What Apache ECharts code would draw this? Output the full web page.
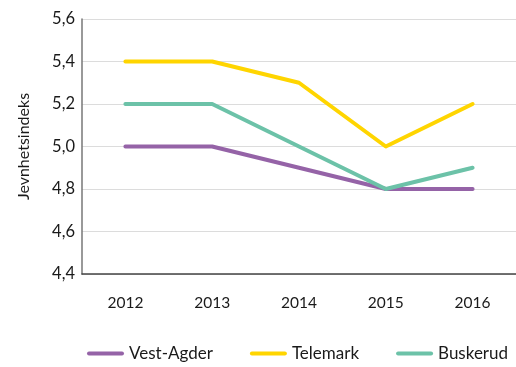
<!DOCTYPE html>
<html>
<head>
<meta charset="utf-8">
<script src="https://cdn.jsdelivr.net/npm/echarts@6/dist/echarts.min.js"></script>
<style>
  html, body { margin: 0; padding: 0; background: #fff; }
  #chart { width: 516px; height: 367px; }
</style>
</head>
<body>
<div id="chart"></div>
<script>
// Evenness index by county, 2012–2016
const years = ['2012', '2013', '2014', '2015', '2016'];
const vestAgder = [5.0, 5.0, 4.9, 4.8, 4.8];
const telemark = [5.4, 5.4, 5.3, 5.0, 5.2];
const buskerud = [5.2, 5.2, 5.0, 4.8, 4.9];

const FONT = 'Lato';
const TEXT = '#1a1a1a';
const legendIcon = 'path://M2,0 H35 A2,2 0 0 1 35,4 H2 A2,2 0 0 1 2,0 Z';

function lineSeries(name, data, color) {
  return {
    name: name,
    type: 'line',
    data: data,
    symbol: 'none',
    color: color,
    lineStyle: { width: 4, color: color, cap: 'round', join: 'round' }
  };
}

const chart = echarts.init(document.getElementById('chart'));
chart.setOption({
  animation: false,
  textStyle: { fontFamily: FONT },
  grid: { left: 82, right: 0, top: 19, bottom: 93 },
  legend: {
    bottom: 0,
    left: 82,
    itemWidth: 37,
    itemHeight: 5,
    itemGap: 37,
    icon: legendIcon,
    textStyle: { fontFamily: FONT, fontSize: 17, color: TEXT },
    data: ['Vest-Agder', 'Telemark', 'Buskerud']
  },
  xAxis: {
    type: 'category',
    data: years,
    boundaryGap: true,
    axisLine: { lineStyle: { color: '#444', width: 1.5 } },
    axisTick: { inside: true, length: 6, lineStyle: { color: '#444' } },
    axisLabel: { margin: 21, fontSize: 15.5, color: TEXT, fontFamily: FONT }
  },
  yAxis: {
    type: 'value',
    min: 4.4,
    max: 5.6,
    interval: 0.2,
    name: 'Jevnhetsindeks',
    nameLocation: 'middle',
    nameGap: 50,
    nameTextStyle: { fontSize: 16, color: TEXT, fontFamily: FONT },
    axisLine: { show: true, lineStyle: { color: '#777', width: 1.5 } },
    axisTick: { show: false },
    splitLine: { lineStyle: { color: '#dcdcdc', width: 1 } },
    axisLabel: {
      margin: 7,
      fontSize: 16.5,
      color: TEXT,
      fontFamily: FONT,
      formatter: v => v.toFixed(1).replace('.', ',')
    }
  },
  series: [
    lineSeries('Vest-Agder', vestAgder, '#9563a7'),
    lineSeries('Telemark', telemark, '#ffd500'),
    lineSeries('Buskerud', buskerud, '#6cc2a8')
  ]
});
</script>
</body>
</html>
